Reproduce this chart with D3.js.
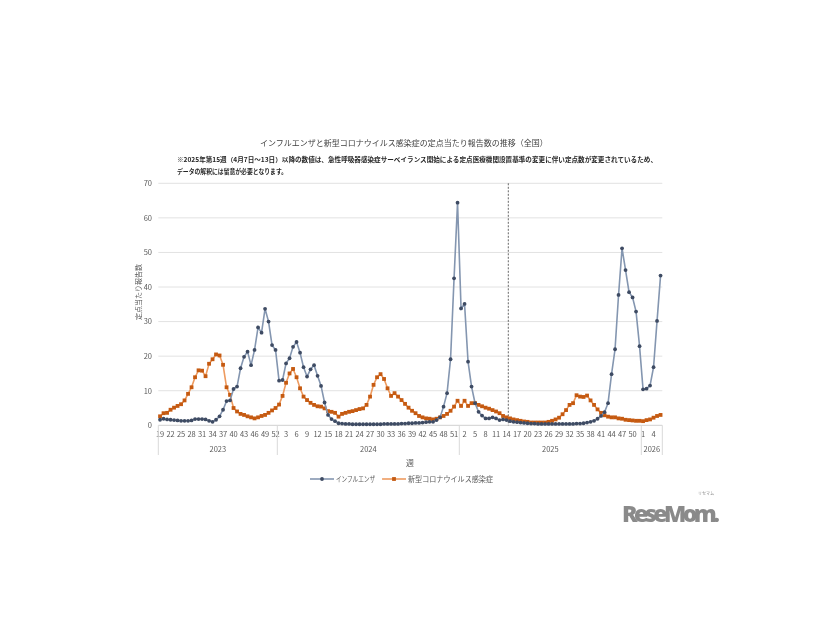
<!DOCTYPE html>
<html><head><meta charset="utf-8">
<script src="https://cdn.jsdelivr.net/npm/d3@7"></script>
<style>body{margin:0;background:#fff;}svg{display:block;will-change:transform;}</style>
</head><body>
<script>
// ---- data ----
const years = ["2023","2024","2025","2026"];
const weeks2023 = d3.range(19,53);
const weeks2024 = d3.range(1,53);
const weeks2025 = d3.range(1,53);
const weeks2026 = d3.range(1,7);

const flu2023 = [1.6,1.9,1.7,1.6,1.5,1.4,1.3,1.3,1.3,1.4,1.8,1.8,1.8,1.7,1.3,1.0,1.6,2.6,4.5,7.0,7.2,10.5,11.2,16.5,19.8,21.3,17.4,21.8,28.3,26.8,33.7,30.0,23.2,21.8];
const flu2024 = [12.9,13.1,17.9,19.4,22.7,24.1,21.0,16.8,14.1,16.2,17.4,14.3,11.4,6.6,3.0,1.8,1.2,0.6,0.5,0.4,0.4,0.3,0.3,0.3,0.3,0.3,0.3,0.3,0.3,0.3,0.4,0.4,0.4,0.4,0.4,0.5,0.5,0.6,0.6,0.7,0.7,0.8,0.9,1.0,1.0,1.5,2.3,5.4,9.3,19.1,42.5,64.4];
const flu2025 = [33.8,35.1,18.4,11.2,6.4,3.9,2.8,2.0,2.0,2.3,2.0,1.5,1.7,1.5,1.2,1.0,0.9,0.8,0.7,0.6,0.5,0.5,0.4,0.4,0.4,0.4,0.4,0.4,0.4,0.4,0.4,0.4,0.4,0.5,0.5,0.6,0.8,1.0,1.3,1.9,2.7,3.8,6.4,14.8,22.0,37.7,51.2,44.9,38.5,37.0,32.9,22.9];
const flu2026 = [10.4,10.6,11.5,16.8,30.2,43.3];

const cov2023 = [2.6,3.5,3.6,4.5,5.1,5.6,6.1,7.2,9.1,11.0,13.9,15.9,15.8,14.2,17.8,19.1,20.5,20.2,17.5,11.0,8.8,5.0,4.0,3.3,3.0,2.6,2.3,2.0,2.3,2.7,3.0,3.6,4.3,5.0];
const cov2024 = [6.0,8.5,12.3,15.0,16.3,13.9,10.7,8.3,7.3,6.5,5.9,5.5,5.4,4.9,4.1,3.9,3.6,2.5,3.3,3.6,3.9,4.1,4.4,4.7,4.9,5.9,8.3,11.7,13.9,14.8,13.4,10.7,8.5,9.3,8.3,7.3,6.2,5.1,4.2,3.5,2.7,2.3,2.0,1.9,1.7,1.9,2.3,2.7,3.3,4.2,5.4,7.1];
const cov2025 = [5.6,7.1,5.6,6.4,6.4,5.9,5.5,5.1,4.8,4.4,4.0,3.5,2.7,2.3,2.0,1.7,1.5,1.3,1.1,1.0,0.8,0.8,0.8,0.8,0.8,1.0,1.3,1.7,2.2,3.2,4.4,5.9,6.4,8.7,8.3,8.2,8.6,7.2,5.9,4.6,3.6,2.9,2.5,2.3,2.3,2.0,1.9,1.6,1.5,1.4,1.3,1.3];
const cov2026 = [1.2,1.5,1.7,2.2,2.7,3.0];

const yTicks = [0,10,20,30,40,50,60,70];
const seriesNames = ["インフルエンザ","新型コロナウイルス感染症"];
const titleText = "インフルエンザと新型コロナウイルス感染症の定点当たり報告数の推移（全国）";
const noteLines = ["※2025年第15週（4月7日～13日）以降の数値は、急性呼吸器感染症サーベイランス開始による定点医療機関設置基準の変更に伴い定点数が変更されているため、","データの解釈には留意が必要となります。"];
const yTitle = "定点当たり報告数";
const xTitle = "週";
const dashedAt = {year:"2025", week:15};

// ---- build categories ----
const weekLists = [weeks2023,weeks2024,weeks2025,weeks2026];
const cats = [];
weekLists.forEach((wl,yi)=>wl.forEach(w=>cats.push({year:years[yi],week:w})));
const flu = [...flu2023,...flu2024,...flu2025,...flu2026];
const cov = [...cov2023,...cov2024,...cov2025,...cov2026];

const W=826,H=620;
const svg = d3.select("body").append("svg").attr("width",W).attr("height",H);
const FONT = "'Noto Sans CJK JP','Noto Sans',sans-serif";
const GREY = "#595959";

const x = d3.scaleBand().domain(d3.range(cats.length)).range([158.3,662.3]).padding(0);
const y = d3.scaleLinear().domain([0,70]).range([425.3,183.3]);
const cx = i => x(i)+x.bandwidth()/2;

// grid
svg.append("g").selectAll("line").data(yTicks).join("line")
  .attr("x1",158.3).attr("x2",662.3).attr("y1",d=>y(d)).attr("y2",d=>y(d))
  .attr("stroke",d=>d===0?"#d0d0d0":"#e2e2e2").attr("stroke-width",1);

// y axis labels
const yAxis = d3.axisLeft(y).tickValues(yTicks).tickSize(0).tickPadding(6);
const gy = svg.append("g").attr("transform","translate(158,0)").attr("color",GREY).call(yAxis);
gy.select(".domain").remove();
gy.selectAll("text").attr("font-family",FONT).attr("font-size",7.5).attr("fill",GREY);

// x axis tick labels every 3rd
const xAxis = d3.axisBottom(x).tickValues(d3.range(0,cats.length,3)).tickFormat(i=>cats[i].week).tickSize(0).tickPadding(6);
const gx = svg.append("g").attr("transform","translate(0,425.3)").attr("color",GREY).call(xAxis);
gx.select(".domain").remove();
gx.selectAll("text").attr("font-family",FONT).attr("font-size",7.5).attr("fill",GREY);

// year group lines and labels
const groups = years.map(yr=>{
  const idx = cats.map((c,i)=>c.year===yr?i:-1).filter(i=>i>=0);
  return {year:yr, start:x(idx[0]), end:x(idx[idx.length-1])+x.bandwidth()};
});
const bounds = [groups[0].start, ...groups.map(g=>g.end)];
svg.append("g").selectAll("line").data(bounds).join("line")
  .attr("x1",d=>d).attr("x2",d=>d).attr("y1",425.3).attr("y2",455)
  .attr("stroke","#d9d9d9").attr("stroke-width",1);
svg.append("g").selectAll("text").data(groups).join("text")
  .attr("x",g=>(g.start+g.end)/2).attr("y",452).attr("text-anchor","middle")
  .attr("font-family",FONT).attr("font-size",7.5).attr("fill",GREY).text(g=>g.year);

// dashed line at 2025 wk15
const di = cats.findIndex(c=>c.year===dashedAt.year && c.week===dashedAt.week);
svg.append("line").attr("x1",x(di)).attr("x2",x(di)).attr("y1",y(70)).attr("y2",y(0))
  .attr("stroke","#404040").attr("stroke-width",0.8).attr("stroke-dasharray","2,1.5");

// lines
const line = d3.line().x((d,i)=>cx(i)).y(d=>y(d));
svg.append("path").datum(cov).attr("d",line).attr("fill","none").attr("stroke","#EE9B60").attr("stroke-width",1.6);
svg.append("g").selectAll("rect").data(cov).join("rect")
  .attr("x",(d,i)=>cx(i)-1.9).attr("y",d=>y(d)-1.9).attr("width",3.8).attr("height",3.8).attr("fill","#C55A11");
svg.append("path").datum(flu).attr("d",line).attr("fill","none").attr("stroke","#8496B0").attr("stroke-width",1.6);
svg.append("g").selectAll("circle").data(flu).join("circle")
  .attr("cx",(d,i)=>cx(i)).attr("cy",d=>y(d)).attr("r",1.9).attr("fill","#3E4B63");

// titles
svg.append("text").attr("x",404).attr("y",146).attr("text-anchor","middle")
  .attr("font-family",FONT).attr("font-size",8).attr("fill","#404040").text(titleText);
const nl = [480,110];
noteLines.forEach((t,k)=>svg.append("text").attr("x",177).attr("y",162+k*12)
  .attr("font-family",FONT).attr("font-size",6.3).attr("font-weight",600).attr("fill","#262626")
  .attr("textLength",nl[k]).attr("lengthAdjust","spacingAndGlyphs").text(t));
svg.append("text").attr("transform","translate(141,292) rotate(-90)").attr("text-anchor","middle")
  .attr("font-family",FONT).attr("font-size",7).attr("fill",GREY).text(yTitle);
svg.append("text").attr("x",410).attr("y",466).attr("text-anchor","middle")
  .attr("font-family",FONT).attr("font-size",8).attr("fill",GREY).text(xTitle);

// legend
const lg = svg.append("g");
const items = [{name:seriesNames[0],x:310,w:39,line:"#8496B0",mk:"#3E4B63",sq:false},{name:seriesNames[1],x:382,w:85,line:"#EE9B60",mk:"#C55A11",sq:true}];
items.forEach(it=>{
  lg.append("line").attr("x1",it.x).attr("x2",it.x+24).attr("y1",479).attr("y2",479).attr("stroke",it.line).attr("stroke-width",1.6);
  if(it.sq) lg.append("rect").attr("x",it.x+12-1.9).attr("y",479-1.9).attr("width",3.8).attr("height",3.8).attr("fill",it.mk);
  else lg.append("circle").attr("cx",it.x+12).attr("cy",479).attr("r",1.9).attr("fill",it.mk);
  lg.append("text").attr("x",it.x+26).attr("y",482).attr("font-family",FONT).attr("font-size",7.5).attr("fill",GREY)
    .attr("textLength",it.w).attr("lengthAdjust","spacingAndGlyphs").text(it.name);
});

// logo
svg.append("text").attr("x",622).attr("y",522).attr("font-family","'Open Sans','Liberation Sans',sans-serif")
  .attr("font-weight","800").attr("font-size",23).attr("fill","#8a8a8a").attr("textLength",98).text("ReseMom.");
svg.append("text").attr("x",698).attr("y",495).attr("font-family",FONT).attr("font-size",4).attr("fill","#8a8a8a").text("リセマム");
</script>
</body></html>
